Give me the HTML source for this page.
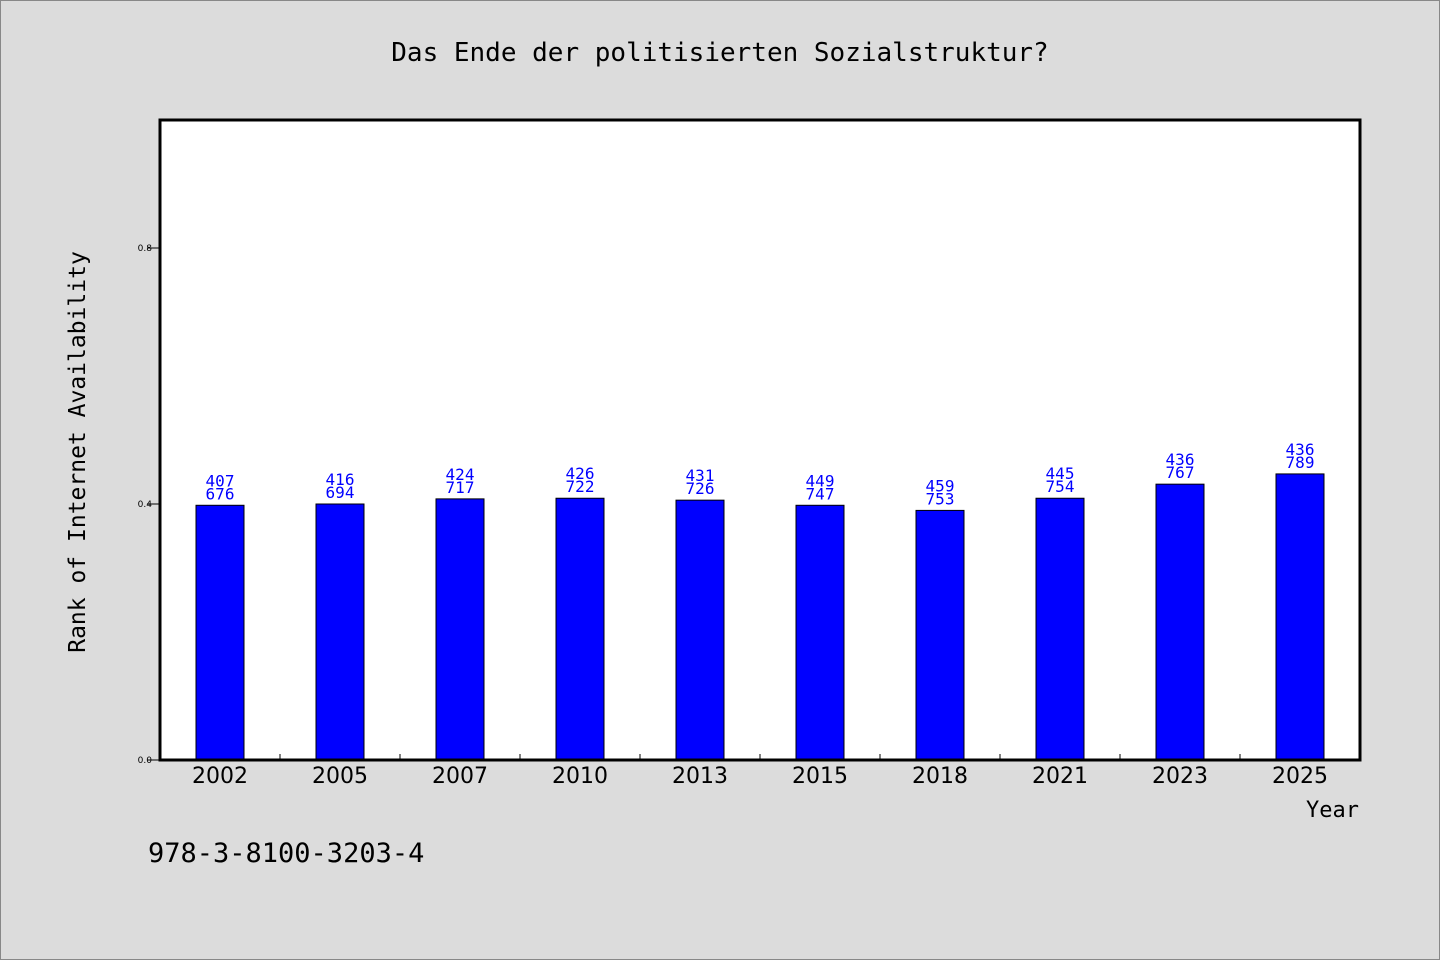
<!DOCTYPE html>
<html><head><meta charset="utf-8"><style>
html,body{margin:0;padding:0;background:#dcdcdc;}
svg{display:block;font-family:"DejaVu Sans Mono","Liberation Mono",monospace;}
</style></head><body>
<svg id="chart" width="1440" height="960" viewBox="0 0 1440 960">
<rect x="0.5" y="0.5" width="1439" height="959" fill="#dcdcdc" stroke="#888"/>
<text x="720" y="61" text-anchor="middle" font-size="26" fill="#000">Das Ende der politisierten Sozialstruktur?</text>
<rect x="160" y="120" width="1200" height="640" fill="#fff"/>
<g id="bars"></g>
<g id="axes"></g>
<rect x="160" y="120" width="1200" height="640" fill="none" stroke="#000" stroke-width="3"/>
<text transform="translate(85,452) rotate(-90)" text-anchor="middle" font-size="23" fill="#000">Rank of Internet Availability</text>
<text x="1359" y="817" text-anchor="end" font-size="22" fill="#000">Year</text>
<text x="148" y="862" font-size="27" fill="#000">978-3-8100-3203-4</text>
</svg>
<script>
const categories = ["2002","2005","2007","2010","2013","2015","2018","2021","2023","2025"];
const values = [0.398,0.400,0.408,0.409,0.406,0.398,0.390,0.409,0.431,0.447];
const labelsTop = ["407","416","424","426","431","449","459","445","436","436"];
const labelsBottom = ["676","694","717","722","726","747","753","754","767","789"];
const yTicks = [0.0,0.4,0.8];
const yTickLabels = ["0.0","0.4","0.8"];

const NS="http://www.w3.org/2000/svg";
const x0=160,x1=1360,y0=760,y1=120,ymax=1.0;
const band=(x1-x0)/categories.length;
const xC=i=>x0+band*(i+0.5);
const yS=v=>y0-(v/ymax)*(y0-y1);
const bars=document.getElementById('bars');
const axes=document.getElementById('axes');
function mk(tag,attrs,parent){const e=document.createElementNS(NS,tag);for(const k in attrs)e.setAttribute(k,attrs[k]);parent.appendChild(e);return e;}
categories.forEach((c,i)=>{
  const bw=48, top=yS(values[i]);
  const r=mk('rect',{x:xC(i)-bw/2,y:top,width:bw,height:y0-top,fill:'#0000ff',stroke:'#000','stroke-width':1},bars);
  
  
  const t1=mk('text',{x:xC(i),y:top-19,'text-anchor':'middle','font-size':16,fill:'#0000ff'},bars);
  t1.textContent=labelsTop[i];
  
  
  const t2=mk('text',{x:xC(i),y:top-6,'text-anchor':'middle','font-size':16,fill:'#0000ff'},bars);
  t2.textContent=labelsBottom[i];
  
  
  const xl=mk('text',{x:xC(i),y:783,'text-anchor':'middle','font-size':22,fill:'#000','font-family':'"DejaVu Sans","Liberation Sans",sans-serif'},axes);
  xl.textContent=c;
  
  
  if(i>0){
    const tk=mk('line',{x1:x0+band*i,x2:x0+band*i,y1:y0,y2:y0-6,stroke:'#000','stroke-width':1},axes);
    
    
  }
});
yTicks.forEach((v,i)=>{
  const y=yS(v);
  const tk=mk('line',{x1:147,x2:160,y1:y,y2:y,stroke:'#000','stroke-width':1},axes);
  
  
  const tl=mk('text',{x:152,y:y+3,'text-anchor':'end','font-size':9,fill:'#000','font-family':'"DejaVu Sans","Liberation Sans",sans-serif'},axes);
  tl.textContent=yTickLabels[i];
  
  
});
</script>
</body></html>
